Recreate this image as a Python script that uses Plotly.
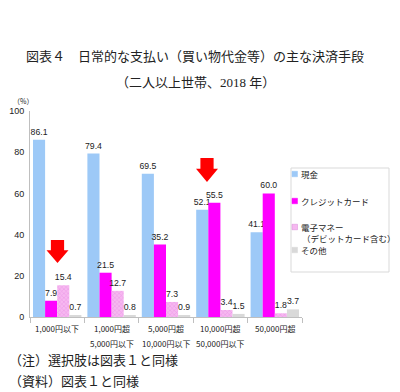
import plotly.graph_objects as go

categories = ["1,000円以下", "1,000円超<br>5,000円以下", "5,000円超<br>10,000円以下",
              "10,000円超<br>50,000円以下", "50,000円超"]
cash = [86.1, 79.4, 69.5, 52.1, 41.1]
credit = [7.9, 21.5, 35.2, 55.5, 60.0]
emoney = [15.4, 12.7, 7.3, 3.4, 1.8]
other = [0.7, 0.8, 0.9, 1.5, 3.7]
series_names = ["現金", "クレジットカード", "電子マネー<br>（デビットカード含む）", "その他"]
y_ticks = [0, 20, 40, 60, 80, 100]

JP = "Noto Sans CJK JP, sans-serif"
SERIF = "Liberation Serif, Noto Sans CJK JP, serif"
colors = ["#9DC9F7", "#FF00FF", "#F6B8F0", "#D9D9D9"]

# screen-pixel -> paper helpers (plot area: x 30..302, y 111..317 on screen)
def px(x):
    return (x - 30) / 272
def py(y):
    return (317 - y) / 206

fig = go.Figure()
specs = [
    (cash, dict(color=colors[0])),
    (credit, dict(color=colors[1])),
    (emoney, dict(color=colors[2], pattern=dict(shape="x", fgcolor="#E070E0", size=3, solidity=0.3))),
    (other, dict(color=colors[3])),
]
for i, (vals, mk) in enumerate(specs):
    fig.add_trace(go.Bar(
        x=categories, y=vals, name=series_names[i], marker=mk,
        marker_line_width=0,
        text=vals, texttemplate="%{y:.1f}", textposition="outside",
        textfont=dict(size=9, color="#222", family="Liberation Sans, Arial"),
        cliponaxis=False, showlegend=False,
    ))

# page body has an 8px margin: shrink figure accordingly
fig.update_layout(
    width=392, height=384, barmode="group", bargap=0.11, bargroupgap=0,
    margin=dict(l=22, r=98, t=103, b=75, autoexpand=False),
    plot_bgcolor="white", paper_bgcolor="white",
    uniformtext=dict(minsize=7, mode="show"),
)
fig.update_xaxes(showline=True, linecolor="#BFBFBF", linewidth=1,
                 ticks="outside", tickson="boundaries", ticklen=5, tickcolor="#BFBFBF",
                 showticklabels=False, automargin=False, showgrid=False)
fig.update_yaxes(range=[0, 100], tickvals=y_ticks, showline=True, linecolor="#BFBFBF",
                 linewidth=1, showgrid=False, zeroline=False, ticks="", automargin=False,
                 ticklabelstandoff=3,
                 tickfont=dict(size=9, family="Liberation Sans, Arial", color="#222"))

# category labels (two lines, wider line spacing)
for c in categories:
    for j, line in enumerate(c.split("<br>")):
        fig.add_annotation(text=line, x=c, xref="x", yref="paper", y=py(328 + 15 * j),
                           showarrow=False, xanchor="center", yanchor="middle",
                           font=dict(size=8, family=JP, color="#222"))

# titles
fig.add_annotation(text="図表４　日常的な支払い（買い物代金等）の主な決済手段", xref="paper", yref="paper",
                   x=px(195), y=py(57), showarrow=False, xanchor="center", yanchor="middle",
                   font=dict(size=13, family=SERIF, color="#222"))
fig.add_annotation(text="（二人以上世帯、2018 年）", xref="paper", yref="paper",
                   x=px(195), y=py(82), showarrow=False, xanchor="center", yanchor="middle",
                   font=dict(size=13, family=SERIF, color="#222"))
fig.add_annotation(text="（%）", xref="paper", yref="paper", x=px(23), y=py(101),
                   showarrow=False, xanchor="center", yanchor="middle",
                   font=dict(size=7, family=JP, color="#222"))
fig.add_annotation(text="（注）選択肢は図表１と同様", xref="paper", yref="paper",
                   x=px(7), xanchor="left", y=py(360), yanchor="middle", showarrow=False,
                   font=dict(size=13, family=SERIF, color="#222"))
fig.add_annotation(text="（資料）図表１と同様", xref="paper", yref="paper",
                   x=px(7), xanchor="left", y=py(381), yanchor="middle", showarrow=False,
                   font=dict(size=13, family=SERIF, color="#222"))

# legend (drawn manually to match the original layout)
fig.add_shape(type="rect", xref="paper", yref="paper", x0=px(291), x1=px(389), y0=py(272), y1=py(168),
              line=dict(color="#D9D9D9", width=1), fillcolor="white")
leg_y = [174, 201, 227, 250]
for i, name in enumerate(series_names):
    yc = leg_y[i]
    fig.add_shape(type="rect", xref="paper", yref="paper", x0=px(292), x1=px(297.5),
                  y0=py(yc + 2.75), y1=py(yc - 2.75), fillcolor=colors[i],
                  line=dict(color="#D98AD9" if i == 2 else colors[i], width=0.5))
    lines = name.split("<br>")
    for j, line in enumerate(lines):
        fig.add_annotation(text=line, xref="paper", yref="paper", x=px(298.5 if j == 0 else 300),
                           y=py(yc + 11 * j), xanchor="left", yanchor="middle", showarrow=False,
                           font=dict(size=8.5, family=JP, color="#222"))

# red arrows
def arrow(cx_px, top_px, bot_px, w_px):
    sw = w_px * 0.3
    hy = top_px + (bot_px - top_px) * 0.45
    pts = [(cx_px - sw, top_px), (cx_px + sw, top_px), (cx_px + sw, hy), (cx_px + w_px / 2, hy),
           (cx_px, bot_px), (cx_px - w_px / 2, hy), (cx_px - sw, hy)]
    path = "M " + " L ".join(f"{px(x):.4f},{py(y):.4f}" for x, y in pts) + " Z"
    fig.add_shape(type="path", path=path, xref="paper", yref="paper",
                  fillcolor="#FF0000", line=dict(width=0))

arrow(57.5, 240, 263, 22)
arrow(207, 158, 182, 22)

fig.write_html("out.html")
